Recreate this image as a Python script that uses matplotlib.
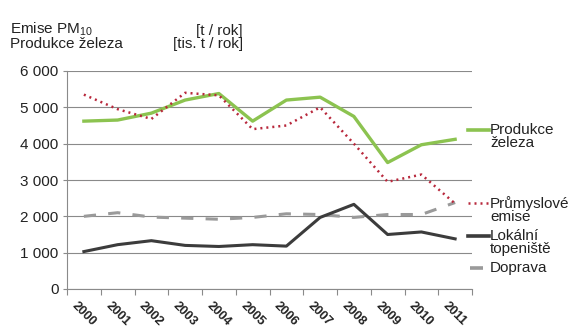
import matplotlib
matplotlib.use("Agg")
import matplotlib.pyplot as plt
from matplotlib.lines import Line2D
import numpy as np

plt.rcParams['font.family'] = ['Liberation Sans', 'DejaVu Sans']
plt.rcParams['mathtext.fontset'] = 'custom'
plt.rcParams['mathtext.rm'] = 'Liberation Sans'

years = ['2000', '2001', '2002', '2003', '2004', '2005', '2006', '2007', '2008', '2009', '2010', '2011']
produkce_zeleza = [4620, 4650, 4840, 5200, 5380, 4620, 5200, 5280, 4750, 3480, 3970, 4120]
prumyslove_emise = [5350, 4950, 4680, 5400, 5330, 4400, 4500, 5000, 4000, 2950, 3150, 2350]
lokalni_topeniste = [1030, 1220, 1330, 1200, 1170, 1220, 1180, 1970, 2330, 1500, 1570, 1380]
doprava = [2000, 2100, 1980, 1950, 1920, 1970, 2070, 2050, 1970, 2050, 2050, 2380]
y_ticks = [0, 1000, 2000, 3000, 4000, 5000, 6000]
y_tick_labels = ['0', '1 000', '2 000', '3 000', '4 000', '5 000', '6 000']

W, H = 575, 327
fig = plt.figure(figsize=(W / 100, H / 100), dpi=100)
ax = fig.add_axes([67 / W, 1 - 289 / H, (472 - 67) / W, (289 - 71) / H])

x = np.arange(len(years)) + 0.5
c_green = '#8cc350'
c_red = '#b8283c'
c_dark = '#3c3c3c'
c_gray = '#9a9a9a'
txt = '#222222'

ax.plot(x, doprava, color=c_gray, lw=2.2, dashes=(4, 4), zorder=3)
ax.plot(x, lokalni_topeniste, color=c_dark, lw=2.2, zorder=4)
ax.plot(x, prumyslove_emise, color=c_red, lw=1.8, linestyle=(0, (0.8, 1.6)), zorder=5)
ax.plot(x, produkce_zeleza, color=c_green, lw=2.4, zorder=4)

ax.set_xlim(0, len(years))
ax.set_ylim(0, 6000)
ax.set_yticks(y_ticks)
ax.set_yticklabels(y_tick_labels, fontsize=11, color=txt)
ax.yaxis.grid(True, color='#8a8a8a', lw=0.8)
ax.set_axisbelow(True)
ax.set_xticks(np.arange(len(years) + 1))
ax.set_xticklabels([])
ax.tick_params(axis='x', length=4, color='#8a8a8a', direction='out')
ax.tick_params(axis='y', length=3, color='#8a8a8a', pad=3)
for s in ['top', 'right']:
    ax.spines[s].set_visible(False)
for s in ['left', 'bottom']:
    ax.spines[s].set_color('#8a8a8a')
    ax.spines[s].set_linewidth(0.8)

for xi, lab in zip(x, years):
    ax.text(xi - 0.18, -280, lab, rotation=-45, rotation_mode='anchor', ha='left', va='top',
            fontsize=9.3, fontweight='bold', color=txt)

# header
fig.text(10 / W, 1 - 48 / H, 'Emise PM$_{\\mathregular{10}}$\nProdukce železa', fontsize=11,
         color=txt, va='baseline', linespacing=0.95)
fig.text(243 / W, 1 - 48 / H, '[t / rok]\n[tis. t / rok]', fontsize=11, color=txt,
         va='baseline', ha='right', multialignment='right', linespacing=0.95)

# legend (manual)
entries = [
    ('Produkce\nželeza', c_green, dict(lw=2.6), 130),
    ('Průmyslové\nemise', c_red, dict(lw=1.8, linestyle=(0, (0.8, 1.6))), 203),
    ('Lokální\ntopeniště', c_dark, dict(lw=2.6), 236),
    ('Doprava', c_gray, dict(lw=2.6, dashes=(4, 4)), 268),
]
for label, col, kw, ypx in entries:
    if label == 'Doprava':
        xs = [470 / W, 483 / W]
    else:
        xs = [468 / W, 489 / W]
    fig.add_artist(Line2D(xs, [1 - ypx / H] * 2, color=col, transform=fig.transFigure, **kw))
    fig.text(490 / W, 1 - (ypx - 7) / H, label, fontsize=11, color=txt, va='top',
             linespacing=0.95)

fig.savefig('out.png', dpi=100, facecolor='white')
